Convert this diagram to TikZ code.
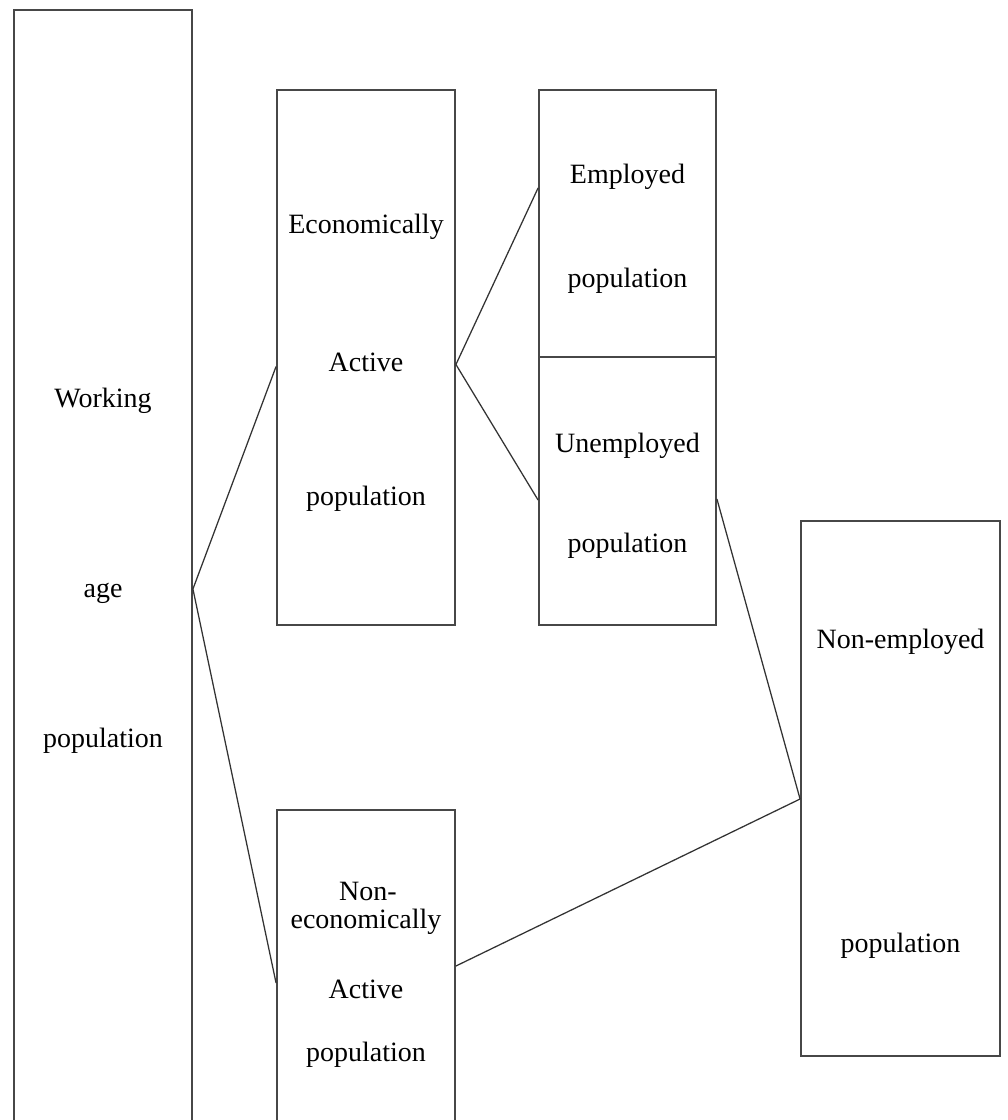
\documentclass[tikz,border=0pt]{standalone}
\usepackage{fontspec}
\setmainfont{Liberation Serif}
\usetikzlibrary{positioning, calc}

\begin{document}
\begin{tikzpicture}[x=0.025cm, y=-0.025cm,
  popbox/.style={draw=black!72, line width=1.3pt, rectangle, inner sep=0pt, minimum width=4.45cm},
  poptext/.style={font=\fontsize{19.9}{24}\selectfont, inner sep=0pt},
  link/.style={draw=black!80, line width=0.9pt}]
  \useasboundingbox (0,0) rectangle (1008,1120);
  \clip (0,0) rectangle (1008,1120);
  % boxes
  \node[popbox, minimum height=28.125cm] (work) at (103, 572.5) {};
  \node[popbox, minimum height=13.375cm] (eco) at (366, 357.5) {};
  \node[popbox, minimum width=4.425cm, minimum height=6.675cm] (emp) at (627.5, 223.5) {};
  \node[popbox, minimum width=4.425cm, minimum height=6.7cm] (unemp) at (627.5, 491) {};
  \node[popbox, minimum width=4.975cm, minimum height=13.375cm] (nonemp) at (900.5, 788.5) {};
  \node[popbox, minimum height=8.125cm] (noneco) at (366, 972.5) {};
  % texts
  \node[poptext] (work-a) at (103, 401) {Working};
  \node[poptext] (work-b) at (103, 593) {age};
  \node[poptext] (work-c) at (103, 741) {population};
  \node[poptext] (eco-a) at (366, 227) {Economically};
  \node[poptext] (eco-b) at (366, 362) {Active};
  \node[poptext] (eco-c) at (366, 499) {population};
  \node[poptext] (emp-a) at (627.5, 177) {Employed};
  \node[poptext] (emp-b) at (627.5, 281) {population};
  \node[poptext] (unemp-a) at (627.5, 446) {Unemployed};
  \node[poptext] (unemp-b) at (627.5, 546) {population};
  \node[poptext] (nonemp-a) at (900.5, 642) {Non-employed};
  \node[poptext] (nonemp-b) at (900.5, 946) {population};
  \node[poptext] (noneco-a) at (368, 891) {Non-};
  \node[poptext] (noneco-b) at (366, 922) {economically};
  \node[poptext] (noneco-c) at (366, 989) {Active};
  \node[poptext] (noneco-d) at (366, 1055) {population};
  % connectors
  \draw[link] ($(work.east)+(0,16.5)$) -- ($(eco.west)+(0,9)$);
  \draw[link] ($(work.east)+(0,16.5)$) -- ($(noneco.west)+(0,10.5)$);
  \draw[link] ($(eco.east)+(0,7)$) -- ($(emp.west)+(0,-35.5)$);
  \draw[link] ($(eco.east)+(0,7)$) -- ($(unemp.west)+(0,9)$);
  \draw[link] ($(unemp.east)+(0,8)$) -- ($(nonemp.west)+(0,10.5)$);
  \draw[link] ($(noneco.east)+(0,-6.5)$) -- ($(nonemp.west)+(0,10.5)$);
\end{tikzpicture}
\end{document}
